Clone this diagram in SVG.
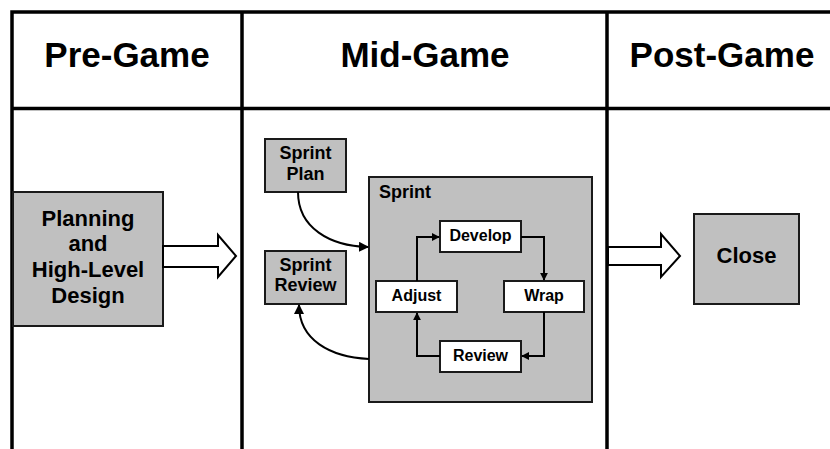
<svg xmlns="http://www.w3.org/2000/svg" width="830" height="449" viewBox="0 0 830 449">
<style>
.grid{stroke:#000;stroke-width:3.5;fill:none}
.box{fill:#c0c0c0;stroke:#1a1a1a;stroke-width:2}
.wbox{fill:#fff;stroke:#1a1a1a;stroke-width:2}
.big{fill:#fff;stroke:#000;stroke-width:2}
text{font-family:"Liberation Sans",Arial,sans-serif;font-weight:bold;fill:#000;text-anchor:middle}
.h{font-size:35px}
.t22{font-size:22px}
.t18{font-size:18px}
.t16{font-size:16px}
.con{fill:none;stroke:#000;stroke-width:2}
</style>
<defs>
<marker id="ah" viewBox="0 0 10 10" refX="9" refY="5" markerWidth="5" markerHeight="5" orient="auto" markerUnits="strokeWidth">
<path d="M0,0 L10,5 L0,10 z" fill="#000"/>
</marker>
<marker id="ahs" viewBox="0 0 10 10" refX="9" refY="5" markerWidth="4" markerHeight="4" orient="auto" markerUnits="strokeWidth">
<path d="M0,0 L10,5 L0,10 z" fill="#000"/>
</marker>
</defs>
<rect width="830" height="449" fill="#fff"/>
<g id="table">
<path class="grid" d="M12,449 V12 H830 M12,108.5 H830 M242,12 V449 M607,12 V449"/>
<text class="h" x="127" y="67">Pre-Game</text>
<text class="h" x="425" y="67">Mid-Game</text>
<text class="h" x="722" y="67">Post-Game</text>
</g>
<g id="planning">
<rect class="box" x="13" y="192" width="150" height="134"/>
<text class="t22" x="88" y="226">Planning</text>
<text class="t22" x="88" y="251">and</text>
<text class="t22" x="88" y="277">High-Level</text>
<text class="t22" x="88" y="303">Design</text>
</g>
<g id="arrow-pre">
<path class="big" d="M163,246 H218 V235 L236,256 L218,277 V267 H163 Z"/>
</g>
<g id="arrow-post">
<path class="big" d="M608,247 H661 V234 L680,256 L661,277 V265 H608 Z"/>
</g>
<g id="close">
<rect class="box" x="694" y="214" width="105" height="90"/>
<text class="t22" x="746.5" y="263">Close</text>
</g>
<g id="sprint-plan">
<rect class="box" x="265" y="139" width="81" height="53"/>
<text class="t18" x="305.5" y="159">Sprint</text>
<text class="t18" x="305.5" y="180">Plan</text>
</g>
<g id="sprint-review">
<rect class="box" x="265" y="251" width="81" height="53"/>
<text class="t18" x="305.5" y="271">Sprint</text>
<text class="t18" x="305.5" y="291">Review</text>
</g>
<g id="sprint">
<rect class="box" x="369" y="177" width="223" height="225"/>
<text class="t18" x="379" y="198" style="text-anchor:start">Sprint</text>
</g>
<g id="develop">
<rect class="wbox" x="440" y="221" width="81" height="31"/>
<text class="t16" x="480.5" y="241">Develop</text>
</g>
<g id="adjust">
<rect class="wbox" x="376" y="281" width="81" height="31"/>
<text class="t16" x="416.5" y="301">Adjust</text>
</g>
<g id="wrap">
<rect class="wbox" x="504" y="281" width="80" height="31"/>
<text class="t16" x="544" y="301">Wrap</text>
</g>
<g id="review">
<rect class="wbox" x="440" y="341" width="81" height="31"/>
<text class="t16" x="480.5" y="361">Review</text>
</g>
<g id="connectors">
<path class="con" marker-end="url(#ah)" d="M298,192 C298,228 330,246 368,247"/>
<path class="con" marker-end="url(#ah)" d="M369,359 C330,357 299,340 299,305"/>
<path class="con" marker-end="url(#ahs)" d="M417,281 V237 H439"/>
<path class="con" marker-end="url(#ahs)" d="M521,237 H544 V280"/>
<path class="con" marker-end="url(#ahs)" d="M544,312 V356 H522"/>
<path class="con" marker-end="url(#ahs)" d="M440,356 H417 V313"/>
</g>
</svg>
